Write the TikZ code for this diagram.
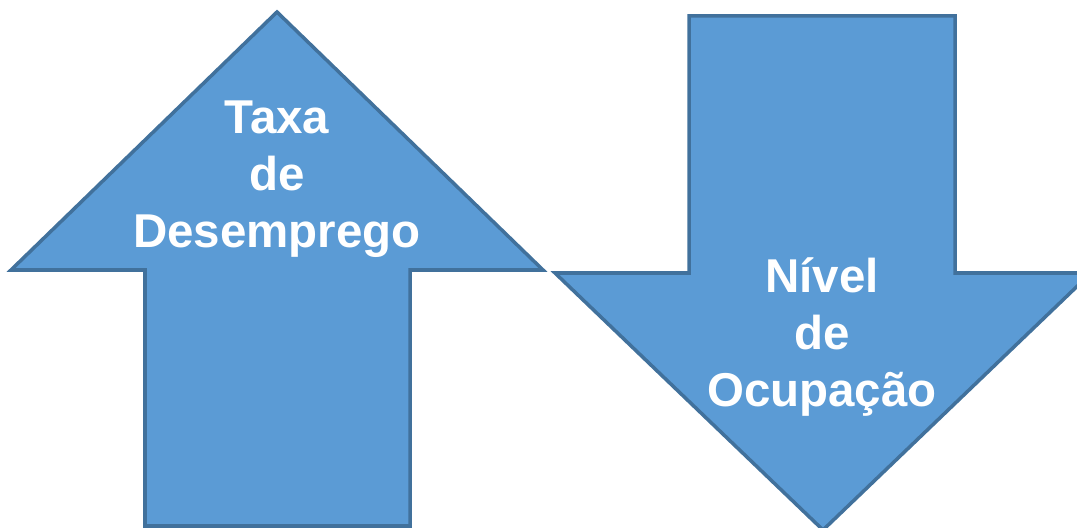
\documentclass[tikz,border=0pt]{standalone}
\usepackage{fontspec}
\setmainfont{Liberation Sans}
\usepackage{tikz}

\definecolor{arrowfill}{HTML}{5B9BD5}
\definecolor{arrowline}{HTML}{41719C}

\begin{document}
\begin{tikzpicture}[x=0.01cm,y=-0.01cm,
  every node/.style={outer sep=0pt},
  bigarrow/.style={fill=arrowfill, draw=arrowline, line width=1pt, line join=miter},
  arrowtext/.style={text=white, align=center, font=\bfseries\fontsize{13.5}{16.2}\selectfont}]
\useasboundingbox (0,0) rectangle (1077,528);

% arrow up
\draw[bigarrow] (277,12) -- (543,270) -- (410,270) -- (410,526) -- (145,526) -- (145,270) -- (11,270) -- cycle;
% arrow down
\draw[bigarrow] (689,16) -- (955,16) -- (955,273) -- (1091,273) -- (823,530) -- (555,273) -- (689,273) -- cycle;

\node[arrowtext] (taxa) at (277,179) {Taxa\\de\\Desemprego};
\node[arrowtext] (nivel) at (822,337) {Nível\\de\\Ocupação};
\end{tikzpicture}
\end{document}
